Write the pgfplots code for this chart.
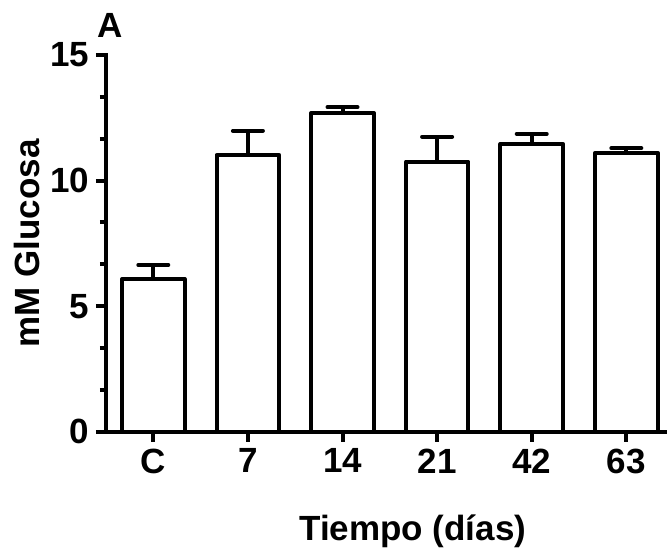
\documentclass[border=0pt]{standalone}
\usepackage{fontspec}
\setmainfont{Liberation Sans}
\usepackage{pgfplots}
\pgfplotsset{compat=1.18}

\begin{document}
\begin{tikzpicture}
\begin{axis}[
  scale only axis, width=280.5pt, height=188.35pt,
  clip=false,
  xmin=-0.5, xmax=5.43, ymin=0, ymax=15,
  axis x line=bottom, axis y line=left,
  axis line style={-, line width=2pt, line cap=rect},
  xtick={0,...,5}, xticklabels={C,7,14,21,42,63},
  ytick={0,5,10,15}, minor y tick num=2,
  tick align=outside, tick style={line width=2pt, black},
  major tick length=5pt, minor tick length=3pt,
  font=\fontsize{17.5}{21}\selectfont\bfseries,
  /pgf/number format/assume math mode=true,
  ylabel={mM Glucosa},
  xlabel={Tiempo (días)},
  ylabel style={at={(axis description cs:-0.141,0.5)}, anchor=center},
  xlabel style={at={(axis description cs:0.547,-0.289)}, anchor=base},
  ybar, bar width=31.25pt,
]
\addplot[draw=black, fill=white, line width=2pt, line join=round,
  error bars/.cd, y dir=plus, y explicit,
  error bar style={line width=2pt, black},
  error mark options={rotate=90, mark size=7.5pt, line width=2pt, line cap=round, black}]
coordinates {
 (0,6.08)  +- (0,0.56)
 (1,11.02) +- (0,0.96)
 (2,12.69) +- (0,0.23)
 (3,10.75) +- (0,1.00)
 (4,11.46) +- (0,0.40)
 (5,11.11) +- (0,0.18)
};
\node[font=\fontsize{17.5}{21}\selectfont\bfseries] at (rel axis cs:0,1) [xshift=2pt,yshift=15pt] {A};
\end{axis}
\pgfresetboundingbox
\path[use as bounding box] (current axis.south west) ++(-53pt,-60.15pt) rectangle ++(333.5pt,276pt);
\end{tikzpicture}
\end{document}
